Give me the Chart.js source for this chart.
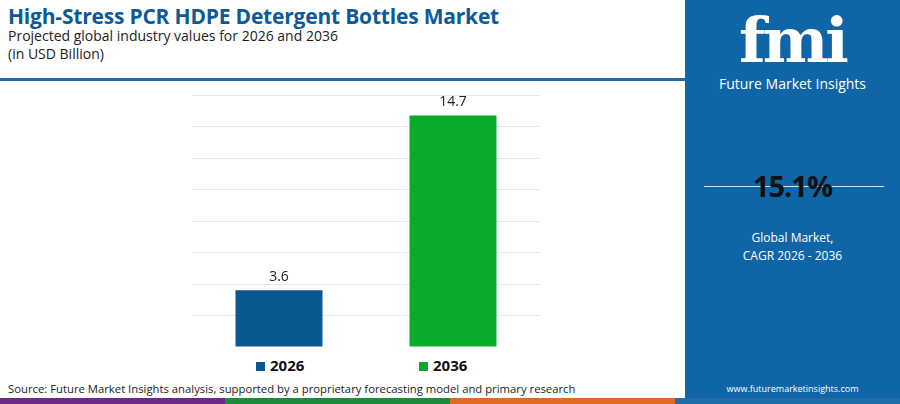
<!DOCTYPE html>
<html>
<head>
<meta charset="utf-8">
<script src="https://cdn.jsdelivr.net/npm/chart.js@4"></script>
<style>
  body { margin: 0; width: 900px; height: 404px; position: relative; overflow: hidden; background: #fff; font-family: "Open Sans", sans-serif; }
  #title { position: absolute; left: 8px; top: 2px; font-size: 21px; font-weight: 700; color: #0d5a96; letter-spacing: -0.2px; }
  #sub { position: absolute; left: 8px; top: 27px; font-size: 14px; color: #222; line-height: 18px; }
  #hline { position: absolute; left: 0; top: 78px; width: 686px; height: 3px; background: #1f6ea9; }
  #panel { position: absolute; left: 685px; top: 0; width: 215px; height: 398px; background: #0f65a5; color: #fff; text-align: center; }
  #wrap { position: absolute; left: 192px; top: 94px; width: 348px; height: 253px; }
  .leg { position: absolute; top: 355px; font-size: 15px; font-weight: 700; color: #111; }
  .leg span { display: inline-block; width: 9px; height: 9px; margin-right: 5px; }
  #src { position: absolute; left: 8px; top: 381px; font-size: 11.3px; color: #222; }
  #foot { position: absolute; left: 0; top: 398px; width: 900px; height: 6px; display: flex; }
</style>
</head>
<body>
<div id="title">High-Stress PCR HDPE Detergent Bottles Market</div>
<div id="sub">Projected global industry values for 2026 and 2036<br>(in USD Billion)</div>
<div id="hline"></div>
<div id="wrap"><canvas id="chart"></canvas></div>
<div class="leg" style="left:256px"><span style="background:#0a5890"></span>2026</div>
<div class="leg" style="left:419px"><span style="background:#0aaa2b"></span>2036</div>
<div id="src">Source: Future Market Insights analysis, supported by a proprietary forecasting model and primary research</div>
<div id="panel">
  <div style="margin-top:8px;font-size:62px;font-weight:700;font-family:'DejaVu Serif',serif;letter-spacing:-3px;line-height:66px">fmi</div>
  <div style="font-size:14px;margin-top:0">Future Market Insights</div>
  <div style="position:absolute;left:19px;top:186px;width:180px;height:1px;background:#cfe0ee"></div>
  <div style="position:absolute;left:0;width:215px;top:166px;font-size:29px;font-weight:700;color:#111;letter-spacing:-1px">15.1%</div>
  <div style="position:absolute;left:0;width:215px;top:229px;font-size:12px;line-height:18px">Global Market,<br>CAGR 2026 - 2036</div>
  <div style="position:absolute;left:0;width:215px;top:382px;font-size:9px">www.futuremarketinsights.com</div>
</div>
<div id="foot">
  <div style="flex:1;background:#6c2b8a"></div><div style="flex:1;background:#1c8c3a"></div>
  <div style="flex:1;background:#e06a1f"></div><div style="flex:1;background:#1f6ea9"></div>
</div>
<script>
const categories = ["2026", "2036"];
const values = [3.6, 14.7];
const colors = ["#0a5890", "#0aaa2b"];

// подписи значений над столбцами
const valueLabels = {
  id: "valueLabels",
  afterDatasetsDraw(chart) {
    const ctx = chart.ctx;
    const meta = chart.getDatasetMeta(0);
    ctx.save();
    ctx.font = "14px 'Open Sans', sans-serif";
    ctx.fillStyle = "#222";
    ctx.textAlign = "center";
    ctx.textBaseline = "bottom";
    meta.data.forEach((bar, i) => {
      ctx.fillText(values[i].toFixed(1), bar.x, bar.y - 6);
    });
    ctx.restore();
  }
};

new Chart(document.getElementById("chart"), {
  type: "bar",
  data: {
    labels: categories,
    datasets: [{ data: values, backgroundColor: colors, barPercentage: 0.5, categoryPercentage: 1 }]
  },
  options: {
    responsive: true,
    maintainAspectRatio: false,
    animation: false,
    layout: { padding: { top: 1, bottom: 0, left: 0, right: 0 } },
    plugins: { legend: { display: false }, tooltip: { enabled: false } },
    scales: {
      x: { display: false },
      y: {
        min: 0, max: 16,
        ticks: { display: false, stepSize: 2 },
        grid: { color: "#e6e6e6", lineWidth: 1, drawTicks: false },
        border: { display: false },
        afterFit(scale) { scale.width = 0; }
      }
    }
  },
  plugins: [valueLabels]
});
</script>
</body>
</html>
